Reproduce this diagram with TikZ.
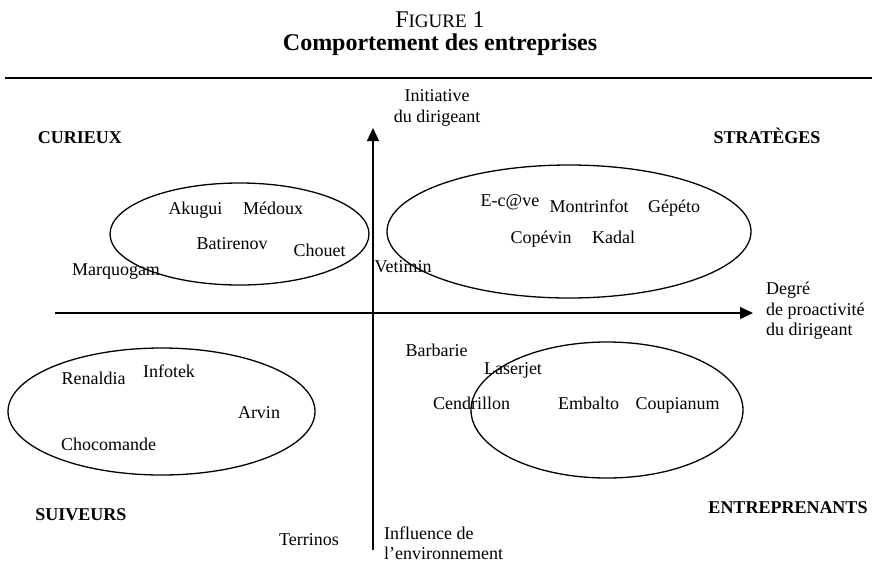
\documentclass[tikz,border=0pt]{standalone}
\usepackage{fontspec}
\setmainfont{Liberation Serif}
\usetikzlibrary{arrows.meta}

\begin{document}
\begin{tikzpicture}[x=1pt, y=-1pt,
		font=\fontsize{18}{20.5}\selectfont,
		firm/.style={anchor=base, inner sep=0pt},
		quadrant/.style={anchor=base, inner sep=0pt, font=\fontsize{18}{20.5}\selectfont\bfseries},
		axislabel/.style={align=left, inner sep=0pt},
		group/.style={line width=1.3pt},
		axis/.style={line width=1.2pt, -{Triangle[length=13pt, width=12pt]}}]

		\useasboundingbox (0,0) rectangle (872,571);

		% Title
		\node[firm] (fig) at (440,27) {{\fontsize{24}{24}\selectfont F}{\fontsize{19}{24}\selectfont IGURE}{\fontsize{24}{24}\selectfont\ 1}};
		\node[firm, font=\fontsize{24}{26}\selectfont\bfseries] (title) at (440,50) {Comportement des entreprises};
		\coordinate (rl) at (5,78);
		\coordinate (rr) at (872,78);
		\draw[line width=2.5pt] (rl) -- (rr);

		% Axes
		\coordinate (vbot) at (373,550);
		\coordinate (vtop) at (373,128);
		\coordinate (hleft) at (55,313);
		\coordinate (hright) at (753,313);
		\draw[axis] (vbot) -- (vtop);
		\draw[axis] (hleft) -- (hright);
		\node[axislabel, align=center] (init) at (437,108) {Initiative\\du dirigeant};
		\node[axislabel, anchor=west] (proact) at (766,311) {Degré\\de proactivité\\du dirigeant};
		\node[axislabel, anchor=west] (envir) at (384,543) {Influence de\\l’environnement};

		% Quadrant names
		\node[quadrant] (curieux) at (80,143) {CURIEUX};
		\node[quadrant] (strateges) at (767,143) {STRATÈGES};
		\node[quadrant] (suiveurs) at (81,520) {SUIVEURS};
		\node[quadrant] (entrep) at (788,513) {ENTREPRENANTS};

		% Curieux
		\begin{scope}
			\draw[group] (239.5,234) ellipse (129.5 and 51);
			\node[firm] (akugui) at (195.5,214) {Akugui};
			\node[firm] (medoux) at (273,214) {Médoux};
			\node[firm] (batirenov) at (232,249) {Batirenov};
			\node[firm] (chouet) at (319.5,256) {Chouet};
			\node[firm] (marquogam) at (116,275) {Marquogam};
		\end{scope}

		% Strateges
		\begin{scope}
			\draw[group] (569,231.5) ellipse (182 and 66.5);
			\node[firm] (ecave) at (510,206) {E-c@ve};
			\node[firm] (montrinfot) at (589,212) {Montrinfot};
			\node[firm] (gepeto) at (674,212) {Gépéto};
			\node[firm] (copevin) at (541,243) {Copévin};
			\node[firm] (kadal) at (613.5,243) {Kadal};
			\node[firm] (vetimin) at (403,272) {Vetimin};
		\end{scope}

		% Suiveurs
		\begin{scope}
			\draw[group] (161.5,411.5) ellipse (153.5 and 63.5);
			\node[firm] (renaldia) at (93.5,384) {Renaldia};
			\node[firm] (infotek) at (169,377) {Infotek};
			\node[firm] (arvin) at (259,418) {Arvin};
			\node[firm] (chocomande) at (108.5,450) {Chocomande};
			\node[firm] (terrinos) at (309,545) {Terrinos};
		\end{scope}

		% Entreprenants
		\begin{scope}
			\draw[group] (607,410) ellipse (136 and 68);
			\node[firm] (barbarie) at (436.5,356) {Barbarie};
			\node[firm] (laserjet) at (513,374) {Laserjet};
			\node[firm] (cendrillon) at (471.5,409) {Cendrillon};
			\node[firm] (embalto) at (588.5,409) {Embalto};
			\node[firm] (coupianum) at (677.5,409) {Coupianum};
		\end{scope}

	\end{tikzpicture}
\end{document}
